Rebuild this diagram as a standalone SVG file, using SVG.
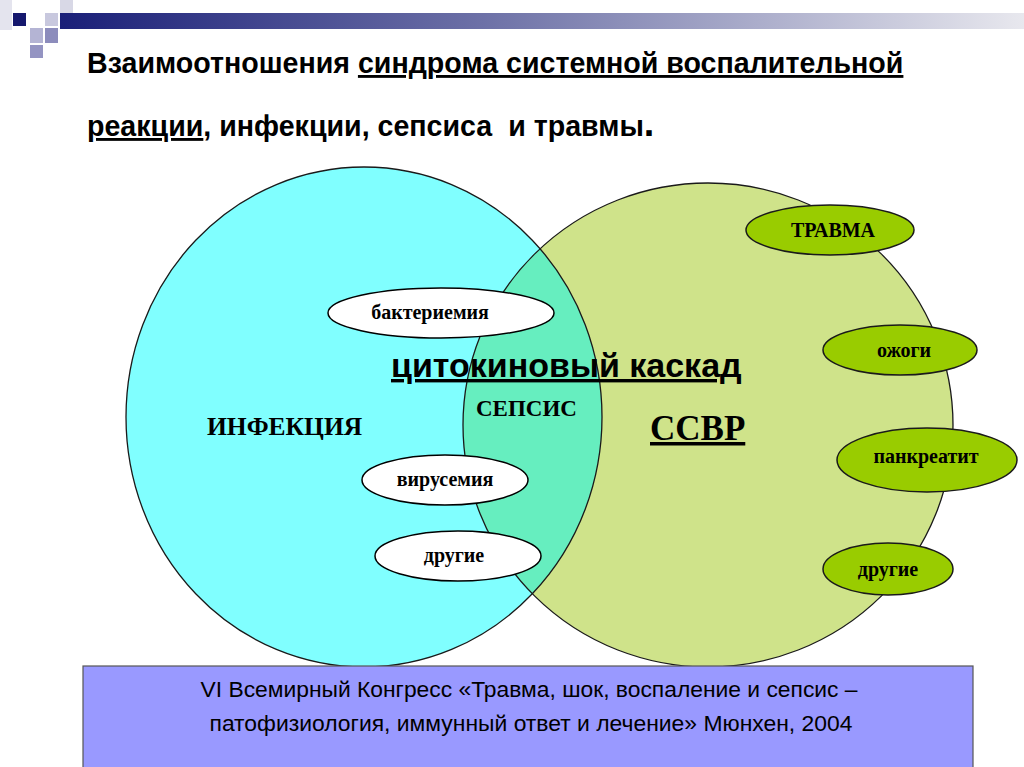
<svg xmlns="http://www.w3.org/2000/svg" width="1024" height="767" viewBox="0 0 1024 767">
<defs>
<linearGradient id="bar" x1="0" y1="0" x2="1" y2="0">
<stop offset="0" stop-color="#1a1f78"/>
<stop offset="0.45" stop-color="#6f73a8"/>
<stop offset="1" stop-color="#e8e8ee"/>
</linearGradient>
<clipPath id="clipL"><ellipse cx="364" cy="417" rx="238" ry="250"/></clipPath>
</defs>
<style>
.ttl{font-family:"Liberation Sans",Arial,sans-serif;font-weight:bold;font-size:28.6px;fill:#000}
.ser{font-family:"Liberation Serif","Times New Roman",serif;font-weight:bold;fill:#000}
.wl{fill:#fff;stroke:#000;stroke-width:1.5}
.gl{fill:#99cc00;stroke:#1a1a1a;stroke-width:1.5}
.lbl{font-family:"Liberation Serif","Times New Roman",serif;font-weight:bold;font-size:20px;fill:#000;text-anchor:middle}
.u{text-decoration:underline}
</style>
<rect width="1024" height="767" fill="#fff"/>
<g id="decor">
<rect x="60" y="13" width="964" height="16" fill="url(#bar)"/>
<rect x="0" y="0" width="12" height="30" fill="#e4e4ee"/>
<rect x="60" y="0" width="13" height="13" fill="#d8d8e6"/>
<rect x="13" y="13" width="13" height="13" fill="#16186e"/>
<rect x="45" y="13" width="13" height="13" fill="#c8c8de"/>
<rect x="30" y="28" width="13" height="15" fill="#b4b4d4"/>
<rect x="45" y="28" width="13" height="15" fill="#8c8cbc"/>
<rect x="30" y="45" width="13" height="13" fill="#9494c2"/>
</g>
<g id="title">
<text class="ttl" x="87" y="73">Взаимоотношения <tspan class="u">синдрома системной воспалительной</tspan></text>
<text class="ttl" x="87" y="136" xml:space="preserve"><tspan class="u">реакции</tspan>, инфекции, сепсиса  и травмы<tspan font-size="38">.</tspan></text>
</g>
<g id="infection">
<ellipse cx="364" cy="417" rx="238" ry="250" fill="#80ffff"/>
</g>
<g id="ssvr">
<ellipse cx="708" cy="425" rx="245" ry="242" fill="#cfe38a"/>
</g>
<g id="sepsis">
<ellipse cx="708" cy="425" rx="245" ry="242" fill="#66eebf" clip-path="url(#clipL)"/>
<ellipse cx="364" cy="417" rx="238" ry="250" fill="none" stroke="#1a1a1a" stroke-width="1.3"/>
<ellipse cx="708" cy="425" rx="245" ry="242" fill="none" stroke="#1a1a1a" stroke-width="1.3"/>
</g>
<g id="connectors"></g>
<g id="labels">
<text class="ser" x="207" y="435" font-size="25.5">ИНФЕКЦИЯ</text>
<text class="ser" x="476" y="416" font-size="23">СЕПСИС</text>
<text class="ser u" x="650" y="440" font-size="35">ССВР</text>
<text class="ttl u" x="391" y="377" style="font-size:34px">цитокиновый каскад</text>
</g>
<g id="bacteremia"><ellipse class="wl" cx="441" cy="313" rx="113" ry="25"/><text class="lbl" x="430" y="319">бактериемия</text></g>
<g id="viremia"><ellipse class="wl" cx="445" cy="480" rx="83" ry="25"/><text class="lbl" x="445" y="486">вирусемия</text></g>
<g id="other-left"><ellipse class="wl" cx="458" cy="556" rx="83" ry="25"/><text class="lbl" x="454" y="562">другие</text></g>
<g id="trauma"><ellipse class="gl" cx="830" cy="230" rx="84" ry="25"/><text class="lbl" x="833" y="237">ТРАВМА</text></g>
<g id="burns"><ellipse class="gl" cx="900" cy="350" rx="77" ry="25"/><text class="lbl" x="904" y="357">ожоги</text></g>
<g id="pancreatitis"><ellipse class="gl" cx="927" cy="460" rx="90" ry="32"/><text class="lbl" x="926" y="463">панкреатит</text></g>
<g id="other-right"><ellipse class="gl" cx="888" cy="569" rx="65" ry="26"/><text class="lbl" x="888" y="576">другие</text></g>
<g id="footer">
<rect x="83" y="666" width="890" height="110" fill="#9999ff" stroke="#555" stroke-width="1.2"/>
<text x="529" y="697" text-anchor="middle" font-family="Liberation Sans, Arial, sans-serif" font-size="22" textLength="657" lengthAdjust="spacingAndGlyphs">VI Всемирный Конгресс «Травма, шок, воспаление и сепсис –</text>
<text x="531" y="731" text-anchor="middle" font-family="Liberation Sans, Arial, sans-serif" font-size="22" textLength="643" lengthAdjust="spacingAndGlyphs">патофизиология, иммунный ответ и лечение» Мюнхен, 2004</text>
</g>
</svg>
